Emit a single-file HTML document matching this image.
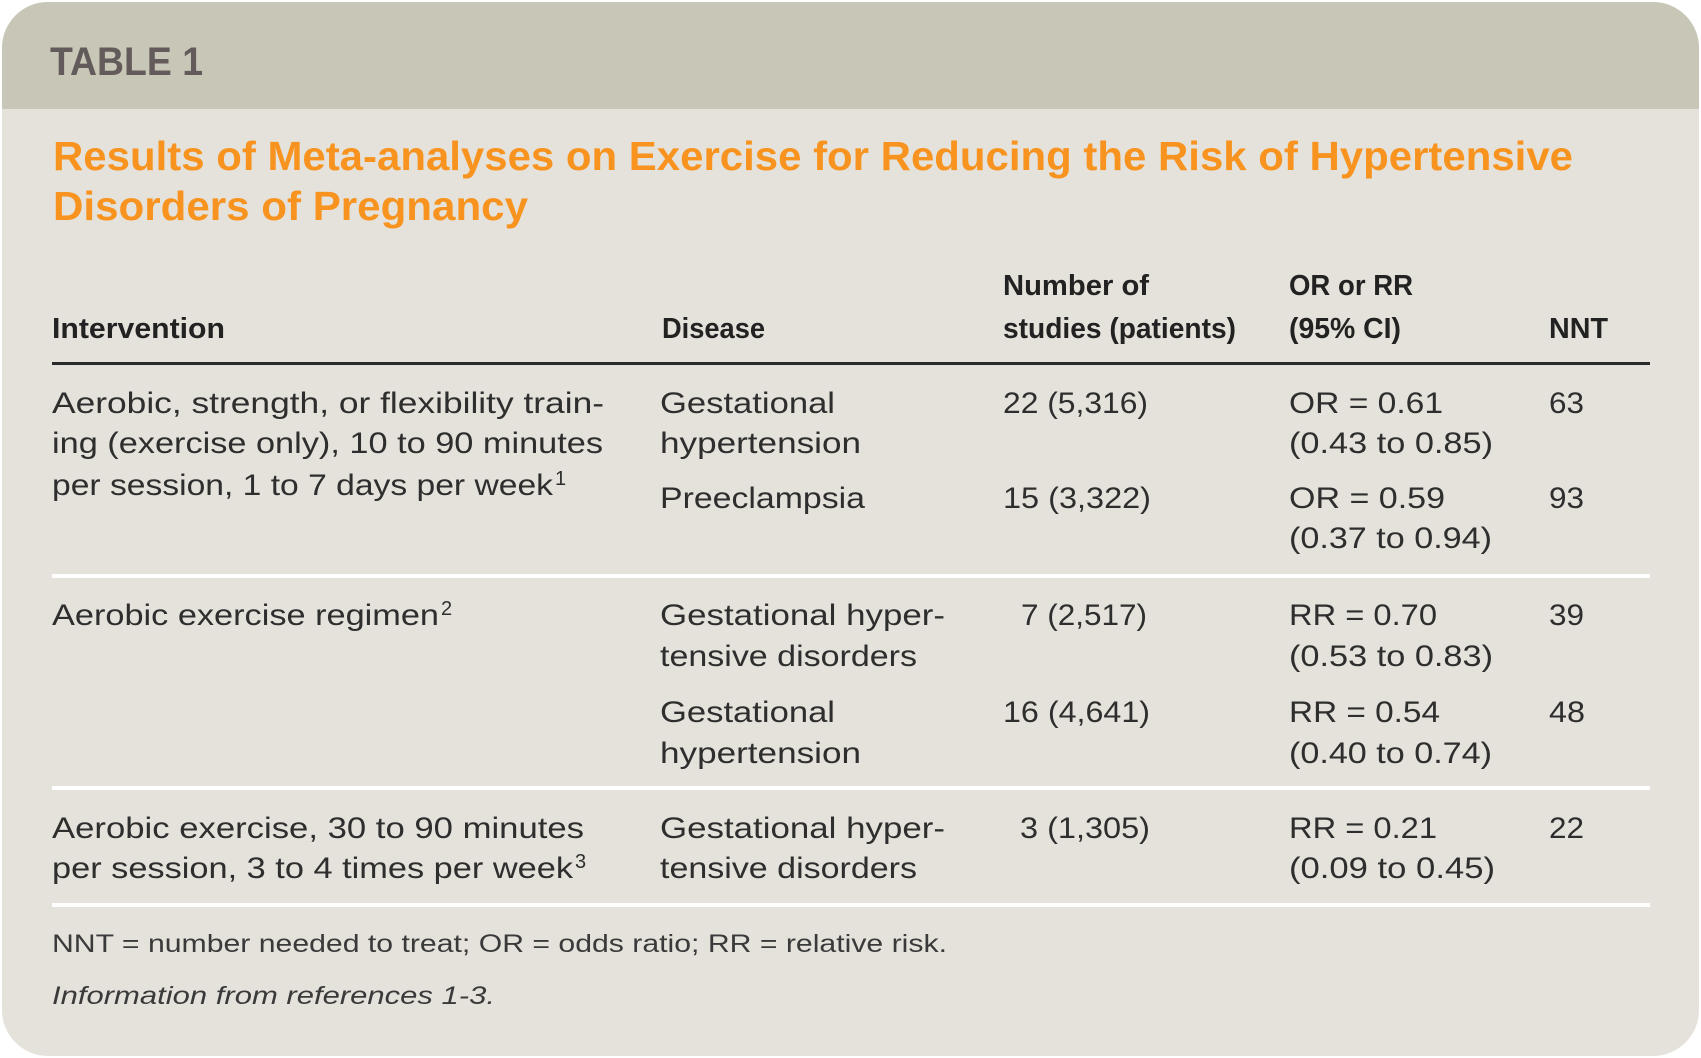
<!DOCTYPE html>
<html><head><meta charset="utf-8"><style>
html,body{margin:0;padding:0;background:#fff;}
svg{display:block;}
text{font-family:"Liberation Sans",sans-serif;}
.b{font-size:30px;fill:#2e2e2e;}
.s{font-size:20px;fill:#2e2e2e;}
.h{font-size:29px;font-weight:bold;fill:#222;}
</style></head><body>
<svg width="1701" height="1058" viewBox="0 0 1701 1058" xmlns="http://www.w3.org/2000/svg">
<defs><clipPath id="c"><rect x="2" y="2" width="1697" height="1054" rx="46" ry="46"/></clipPath></defs>
<g clip-path="url(#c)">
<rect x="0" y="0" width="1701" height="1058" fill="#e4e2da"/>
<rect x="0" y="0" width="1701" height="109" fill="#c8c6b6"/>
</g>
<text x="50" y="75" font-size="40" font-weight="bold" fill="#635b5b" textLength="153" lengthAdjust="spacingAndGlyphs">TABLE 1</text>
<text x="53" y="170" font-size="41" font-weight="bold" fill="#f7931e" textLength="1520" lengthAdjust="spacingAndGlyphs">Results of Meta-analyses on Exercise for Reducing the Risk of Hypertensive</text>
<text x="53" y="220" font-size="41" font-weight="bold" fill="#f7931e" textLength="475" lengthAdjust="spacingAndGlyphs">Disorders of Pregnancy</text>

<text class="h" x="1003" y="295" textLength="146" lengthAdjust="spacingAndGlyphs">Number of</text>
<text class="h" x="1289" y="295" textLength="124" lengthAdjust="spacingAndGlyphs">OR or RR</text>
<text class="h" x="52" y="338" textLength="173" lengthAdjust="spacingAndGlyphs">Intervention</text>
<text class="h" x="662" y="338" textLength="103" lengthAdjust="spacingAndGlyphs">Disease</text>
<text class="h" x="1003" y="338" textLength="233" lengthAdjust="spacingAndGlyphs">studies (patients)</text>
<text class="h" x="1289" y="338" textLength="112" lengthAdjust="spacingAndGlyphs">(95% CI)</text>
<text class="h" x="1549" y="338" textLength="59" lengthAdjust="spacingAndGlyphs">NNT</text>
<rect x="52" y="362" width="1598" height="3" fill="#2a2a2a"/>

<text class="b" x="52" y="413" textLength="552" lengthAdjust="spacingAndGlyphs">Aerobic, strength, or flexibility train-</text>
<text class="b" x="52" y="453" textLength="551" lengthAdjust="spacingAndGlyphs">ing (exercise only), 10 to 90 minutes</text>
<text class="b" x="52" y="495" textLength="501" lengthAdjust="spacingAndGlyphs">per session, 1 to 7 days per week</text>
<text class="s" x="555" y="485">1</text>
<text class="b" x="660" y="413" textLength="175" lengthAdjust="spacingAndGlyphs">Gestational</text>
<text class="b" x="660" y="453" textLength="201" lengthAdjust="spacingAndGlyphs">hypertension</text>
<text class="b" x="660" y="508" textLength="205" lengthAdjust="spacingAndGlyphs">Preeclampsia</text>
<text class="b" x="1003" y="413" textLength="145" lengthAdjust="spacingAndGlyphs">22 (5,316)</text>
<text class="b" x="1003" y="508" textLength="148" lengthAdjust="spacingAndGlyphs">15 (3,322)</text>
<text class="b" x="1289" y="413" textLength="154" lengthAdjust="spacingAndGlyphs">OR = 0.61</text>
<text class="b" x="1289" y="453" textLength="204" lengthAdjust="spacingAndGlyphs">(0.43 to 0.85)</text>
<text class="b" x="1289" y="508" textLength="156" lengthAdjust="spacingAndGlyphs">OR = 0.59</text>
<text class="b" x="1289" y="548" textLength="203" lengthAdjust="spacingAndGlyphs">(0.37 to 0.94)</text>
<text class="b" x="1549" y="413" textLength="35" lengthAdjust="spacingAndGlyphs">63</text>
<text class="b" x="1549" y="508" textLength="35" lengthAdjust="spacingAndGlyphs">93</text>
<rect x="52" y="574" width="1598" height="4" fill="#ffffff"/>

<text class="b" x="52" y="625" textLength="387" lengthAdjust="spacingAndGlyphs">Aerobic exercise regimen</text>
<text class="s" x="441" y="615">2</text>
<text class="b" x="660" y="625" textLength="285" lengthAdjust="spacingAndGlyphs">Gestational hyper-</text>
<text class="b" x="660" y="666" textLength="257" lengthAdjust="spacingAndGlyphs">tensive disorders</text>
<text class="b" x="660" y="722" textLength="175" lengthAdjust="spacingAndGlyphs">Gestational</text>
<text class="b" x="660" y="763" textLength="201" lengthAdjust="spacingAndGlyphs">hypertension</text>
<text class="b" x="1021" y="625" textLength="126" lengthAdjust="spacingAndGlyphs">7 (2,517)</text>
<text class="b" x="1003" y="722" textLength="147" lengthAdjust="spacingAndGlyphs">16 (4,641)</text>
<text class="b" x="1289" y="625" textLength="148" lengthAdjust="spacingAndGlyphs">RR = 0.70</text>
<text class="b" x="1289" y="666" textLength="204" lengthAdjust="spacingAndGlyphs">(0.53 to 0.83)</text>
<text class="b" x="1289" y="722" textLength="151" lengthAdjust="spacingAndGlyphs">RR = 0.54</text>
<text class="b" x="1289" y="763" textLength="203" lengthAdjust="spacingAndGlyphs">(0.40 to 0.74)</text>
<text class="b" x="1549" y="625" textLength="35" lengthAdjust="spacingAndGlyphs">39</text>
<text class="b" x="1549" y="722" textLength="36" lengthAdjust="spacingAndGlyphs">48</text>
<rect x="52" y="786" width="1598" height="4" fill="#ffffff"/>

<text class="b" x="52" y="838" textLength="532" lengthAdjust="spacingAndGlyphs">Aerobic exercise, 30 to 90 minutes</text>
<text class="b" x="52" y="878" textLength="521" lengthAdjust="spacingAndGlyphs">per session, 3 to 4 times per week</text>
<text class="s" x="575" y="868">3</text>
<text class="b" x="660" y="838" textLength="285" lengthAdjust="spacingAndGlyphs">Gestational hyper-</text>
<text class="b" x="660" y="878" textLength="257" lengthAdjust="spacingAndGlyphs">tensive disorders</text>
<text class="b" x="1020" y="838" textLength="130" lengthAdjust="spacingAndGlyphs">3 (1,305)</text>
<text class="b" x="1289" y="838" textLength="148" lengthAdjust="spacingAndGlyphs">RR = 0.21</text>
<text class="b" x="1289" y="878" textLength="206" lengthAdjust="spacingAndGlyphs">(0.09 to 0.45)</text>
<text class="b" x="1549" y="838" textLength="35" lengthAdjust="spacingAndGlyphs">22</text>
<rect x="52" y="903" width="1598" height="4" fill="#ffffff"/>

<text x="52" y="952" font-size="25" fill="#3a3a3a" textLength="895" lengthAdjust="spacingAndGlyphs">NNT = number needed to treat; OR = odds ratio; RR = relative risk.</text>
<text x="52" y="1004" font-size="25" font-style="italic" fill="#3a3a3a" textLength="443" lengthAdjust="spacingAndGlyphs">Information from references 1-3.</text>
</svg>
</body></html>
